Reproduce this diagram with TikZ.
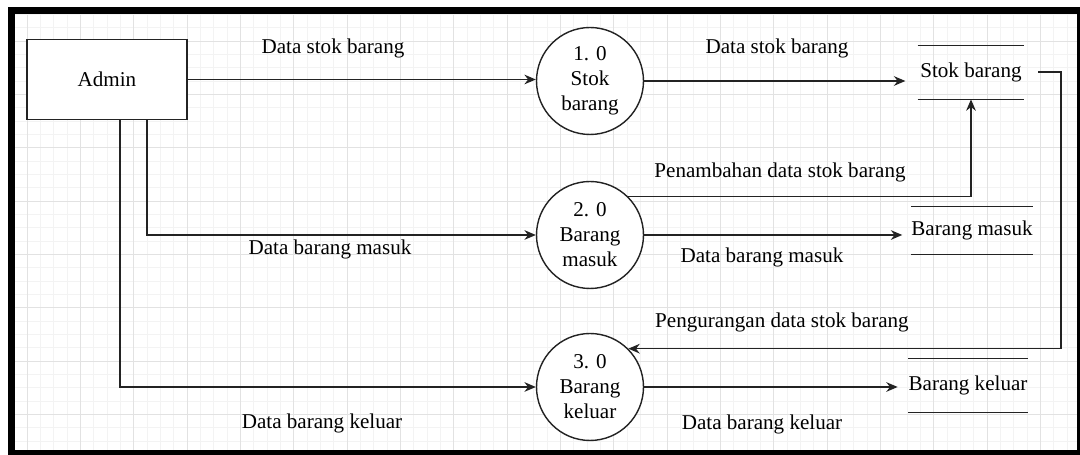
\documentclass[tikz,border=0pt]{standalone}
\usepackage{fontspec}
\setmainfont{Liberation Serif}
\usetikzlibrary{arrows.meta, positioning, calc}
\definecolor{dfdline}{RGB}{35, 35, 35}
\definecolor{gridminor}{RGB}{243, 243, 243}
\definecolor{gridmajor}{RGB}{226, 226, 226}
\newcommand{\dfdfont}{\fontsize{12}{14.2}\selectfont}
\tikzset{
    entity/.style={rectangle, draw=dfdline, line width=0.8pt, fill=white, minimum width=3.2cm, minimum height=1.6cm, font=\dfdfont},
    process/.style={circle, draw=dfdline, line width=0.8pt, fill=white, minimum size=2.14cm, inner sep=0pt, align=center, font=\dfdfont},
    datastore/.style={rectangle, inner sep=0pt, minimum height=1.06cm, font=\dfdfont},
    storeline/.style={draw=dfdline, line width=0.8pt},
    flow/.style={draw, dfdline, line width=0.8pt, -{Stealth[length=6.5pt, width=5.5pt]}},
    flowlabel/.style={font=\dfdfont, text=black}
}

\begin{document}
\begin{tikzpicture}[x=0.02cm, y=-0.02cm]
    \useasboundingbox (0,0) rectangle (1080,455);

    % Frame and grid
    \fill[black] (8,7) rectangle (1080,455);
    \fill[white] (15,15) rectangle (1077,450);
    \begin{scope}
        \clip (15,15) rectangle (1077,450);
        \foreach \k in {0,...,81} \draw[gridminor, line width=0.4pt] ({0.333+13.333*\k},15) -- ({0.333+13.333*\k},450);
        \foreach \k in {1,...,34} \draw[gridminor, line width=0.4pt] (15,{1+13.333*\k}) -- (1077,{1+13.333*\k});
        \foreach \k in {0,...,19} \draw[gridmajor, line width=0.5pt] ({27+53.333*\k},15) -- ({27+53.333*\k},450);
        \foreach \k in {0,...,7} \draw[gridmajor, line width=0.5pt] (15,{41+53.333*\k}) -- (1077,{41+53.333*\k});
    \end{scope}

    % Entity and processes
    \node[entity] (admin) at (107,79.5) {Admin};
    \node[process] (p1) at (590,81) {1. 0\\Stok\\barang};
    \node[process] (p2) at (590,235) {2. 0\\Barang\\masuk};
    \node[process] (p3) at (590,387) {3. 0\\Barang\\keluar};

    % Data stores
    \node[datastore, minimum width=2.12cm] (stok) at (971,72.5) {Stok barang};
    \node[datastore, minimum width=2.4cm, minimum height=0.94cm] (masuk) at (972,230.5) {Barang masuk};
    \node[datastore, minimum width=2.2cm] (keluar) at (968,385.5) {Barang keluar};
    \foreach \s in {stok, masuk, keluar} {
        \draw[storeline] (\s.north west) -- (\s.north east);
        \draw[storeline] (\s.south west) -- (\s.south east);
    }

    % Flows
    \coordinate (a2) at (147,119.5);
    \coordinate (a3) at (120,119.5);
    \coordinate (retA) at (1038,72);
    \coordinate (retB) at (1061,72);
    \draw[flow] (admin) -- (admin -| p1.west);
    \draw[flow] (a2) |- (p2);
    \draw[flow] (a3) |- (p3);
    \draw[flow, shorten >=7pt] (p1.east) -- (p1.east -| stok.west);
    \draw[flow, shorten >=5pt] (p2.east) -- (p2.east -| masuk.west);
    \draw[flow, shorten >=6pt] (p3.east) -- (p3.east -| keluar.west);
    \draw[flow] (p2.45) -| (stok.south);
    \draw[flow] (retA) -- (retB) |- (p3.45);

    % Labels
    \node[flowlabel] (lblA) at (333,48) {Data stok barang};
    \node[flowlabel] (lblB) at (777,48) {Data stok barang};
    \node[flowlabel] (lblC) at (780,172) {Penambahan data stok barang};
    \node[flowlabel] (lblD) at (330,249) {Data barang masuk};
    \node[flowlabel] (lblE) at (762,257) {Data barang masuk};
    \node[flowlabel] (lblF) at (782,322) {Pengurangan data stok barang};
    \node[flowlabel] (lblG) at (322,423) {Data barang keluar};
    \node[flowlabel] (lblH) at (762,424) {Data barang keluar};
\end{tikzpicture}
\end{document}
